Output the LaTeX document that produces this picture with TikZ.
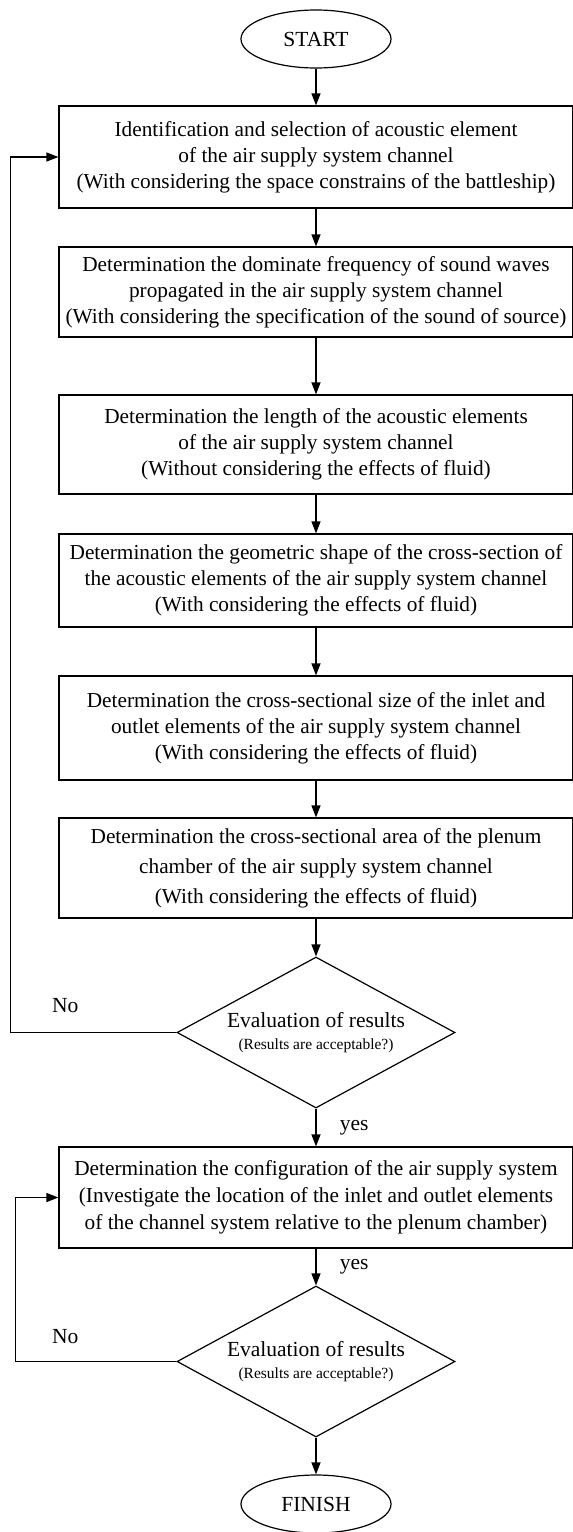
\documentclass[tikz,border=0pt]{standalone}
\usepackage{fontspec}
\setmainfont{Liberation Serif}
\usetikzlibrary{shapes.geometric,arrows.meta,positioning}

\begin{document}
\begin{tikzpicture}[x=1pt,y=1pt,node distance=140pt,on grid,line width=1.2pt,
		stepbox/.style={draw,rectangle,minimum width=514pt,inner sep=0pt,align=center,
			font=\fontsize{21.3}{26}\selectfont},
		decision/.style={draw,diamond,aspect=1.84,minimum width=278pt,minimum height=151pt,inner sep=0pt,
			align=center,font=\fontsize{21.5}{24.5}\selectfont},
		terminal/.style={draw,ellipse,minimum width=150pt,minimum height=58pt,inner sep=0pt,
			font=\fontsize{21.5}{24.5}\selectfont},
		flow/.style={-{Triangle[length=12pt,width=9pt]}},
		lbl/.style={font=\fontsize{21.5}{24.5}\selectfont}]
		\useasboundingbox (0,0) rectangle (573,-1532);
		\node[terminal] (start) at (316,-39) {START};
		\node[stepbox,minimum height=102pt] (b_1) [below=118pt of start]
		{Identification and selection of acoustic element\\
			of the air supply system channel\\
			(With considering the space constrains of the battleship)};
		\node[stepbox,minimum height=90pt] (b_2) [below=135pt of b_1]
		{Determination the dominate frequency of sound waves\\
			propagated in the air supply system channel\\
			(With considering the specification of the sound of source)};
		\node[stepbox,minimum height=99pt] (b_3) [below=152.5pt of b_2]
		{Determination the length of the acoustic elements\\
			of the air supply system channel\\
			(Without considering the effects of fluid)};
		\node[stepbox,minimum height=93pt] (b_4) [below=136pt of b_3]
		{Determination the geometric shape of the cross-section of\\
			the acoustic elements of the air supply system channel\\
			(With considering the effects of fluid)};
		\node[stepbox,minimum height=104pt] (b_5) [below=147.5pt of b_4]
		{Determination the cross-sectional size of the inlet and\\
			outlet elements of the air supply system channel\\
			(With considering the effects of fluid)};
		\node[stepbox,minimum height=100pt,font=\fontsize{21.3}{30}\selectfont] (b_6) [below=140pt of b_5]
		{Determination the cross-sectional area of the plenum\\
			chamber of the air supply system channel\\
			(With considering the effects of fluid)};
		\node[decision] (d_1) [below=164.5pt of b_6]
		{Evaluation of results\\[-2pt]
			{\fontsize{15.5}{18}\selectfont (Results are acceptable?)}};
		\node[stepbox,minimum height=101pt,font=\fontsize{21.3}{27}\selectfont] (b_7) [below=165pt of d_1]
		{Determination the configuration of the air supply system\\
			(Investigate the location of the inlet and outlet elements\\
			of the channel system relative to the plenum chamber)};
		\node[decision] (d_2) [below=164pt of b_7]
		{Evaluation of results\\[-2pt]
			{\fontsize{15.5}{18}\selectfont (Results are acceptable?)}};
		\node[terminal] (finish) [below=142.5pt of d_2] {FINISH};

		\draw[flow] (start) -- (b_1);
		\draw[flow] (b_1) -- (b_2);
		\draw[flow] (b_2) -- (b_3);
		\draw[flow] (b_3) -- (b_4);
		\draw[flow] (b_4) -- (b_5);
		\draw[flow] (b_5) -- (b_6);
		\draw[flow] (b_6) -- (d_1);
		\draw[flow] (d_1) -- node[lbl,right=20pt] {yes} (b_7);
		\draw[flow] (b_7) -- node[lbl,right=20pt] {yes} (d_2);
		\draw[flow] (d_2) -- (finish);
		% loops back
		\draw[flow] (d_1.west) -- node[lbl,above=16pt,pos=0.67] {No} ++(-166,0) |- (b_1.west);
		\draw[flow] (d_2.west) -- node[lbl,above=14pt,pos=0.69] {No} ++(-161,0) |- (b_7.west);
	\end{tikzpicture}
\end{document}
